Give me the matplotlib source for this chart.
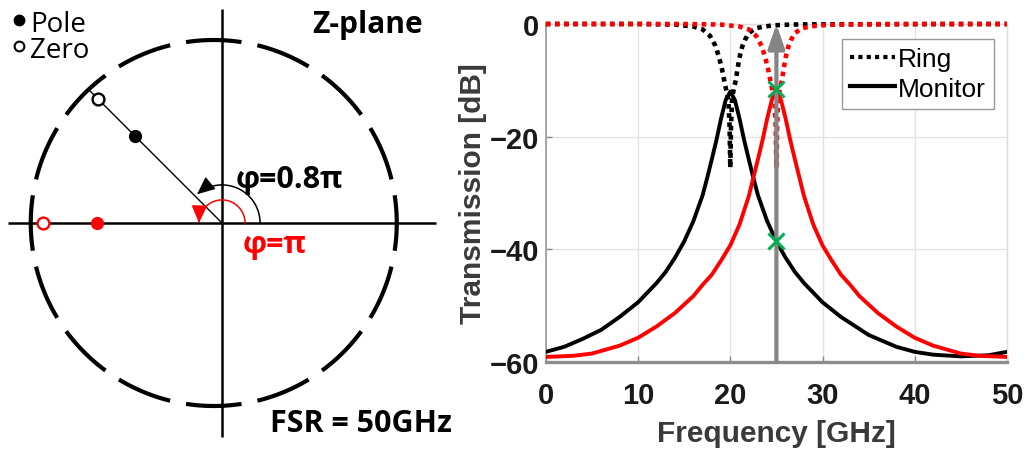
import numpy as np
import matplotlib
matplotlib.use('Agg')
import matplotlib.pyplot as plt
from matplotlib.patches import FancyArrowPatch
from matplotlib.path import Path
from matplotlib.lines import Line2D

# ----------------------------- data -----------------------------
# z-plane (left panel): one pole/zero pair per case
case_colors = ['black', 'red']
case_angle_deg = [135, 180]          # drawn direction of the pair
pole_radius = [0.67, 0.685]
zero_radius = [0.957, 0.976]
phi_labels = ['φ=0.8π', 'φ=π']

# transmission (right panel)
black_monitor_f = [0, 2, 4, 6, 8, 10, 12, 13, 14, 15, 16, 17, 17.5, 18, 18.5, 19, 19.5, 20,
                   20.5, 21, 21.5, 22, 22.5, 23, 24, 25, 26, 27, 28, 30, 32, 35, 38, 40, 42, 45, 48, 50]
black_monitor_db = [-58.2, -57.3, -55.9, -54.3, -52.0, -49.4, -46.0, -44.0, -41.5, -38.6, -35.0, -30.4,
                    -27.3, -24.0, -20.6, -16.8, -13.5, -12.0, -13.5, -16.8, -20.6, -24.0, -27.3, -30.4,
                    -35.0, -38.6, -41.5, -44.0, -46.0, -49.4, -52.0, -55.2, -57.3, -58.2, -58.7, -59.0,
                    -58.8, -58.2]

red_monitor_f = [0, 3, 5, 8, 10, 12, 14, 16, 17, 18, 19, 20, 21, 22, 22.5, 23, 23.5, 24, 24.5, 25,
                 25.5, 26, 26.5, 27, 27.5, 28, 29, 30, 31, 32, 33, 34, 36, 38, 40, 42, 45, 47, 50]
red_monitor_db = [-59.1, -58.9, -58.5, -57.1, -55.7, -53.7, -51.3, -48.3, -46.3, -44.5, -42.0, -39.3,
                  -35.6, -30.6, -27.3, -24.0, -20.6, -16.8, -13.5, -11.6, -13.5, -16.8, -20.6, -24.0,
                  -27.3, -30.6, -35.6, -39.3, -42.0, -44.5, -46.3, -48.3, -51.3, -53.7, -55.7, -57.1,
                  -58.5, -58.9, -59.1]

black_ring_f = [0, 10, 12, 14, 16, 17, 17.8, 18.4, 18.8, 19.1, 19.4, 19.6, 19.8, 19.92, 20,
                20.08, 20.2, 20.4, 20.6, 20.8, 21.05, 21.3, 21.6, 22.0, 22.8, 23.5, 24.6, 26.5, 30, 50]
black_ring_db = [0, 0, -0.05, -0.1, -0.45, -0.95, -2.1, -3.9, -6.0, -8.0, -10.5, -12.0, -13.8, -18, -25.5,
                 -18, -13.2, -11.3, -10.0, -7.8, -5.6, -4.0, -2.8, -1.6, -0.75, -0.5, -0.25, -0.1, -0.05, 0]

red_ring_f = [0, 15, 17, 19, 21, 22, 22.8, 23.4, 23.8, 24.1, 24.4, 24.6, 24.8, 24.92, 25,
              25.08, 25.2, 25.4, 25.6, 25.8, 26.05, 26.3, 26.6, 27.0, 27.8, 28.5, 29.6, 31.5, 40, 50]
red_ring_db = [0, 0, -0.05, -0.1, -0.45, -0.95, -2.1, -3.9, -6.0, -8.0, -10.5, -12.0, -13.8, -18, -25.5,
               -18, -13.2, -11.3, -10.0, -7.8, -5.6, -4.0, -2.8, -1.6, -0.75, -0.5, -0.25, -0.1, 0, 0]

marker_f = [25, 25]
marker_db = [-11.6, -38.5]
arrow_f = 25

x_ticks = [0, 10, 20, 30, 40, 50]
y_ticks = [0, -20, -40, -60]
# ----------------------------------------------------------------

W, H = 1027, 456
fig = plt.figure(figsize=(W / 100, H / 100), dpi=100)

sans = ['Open Sans', 'DejaVu Sans']
arial = ['Liberation Sans', 'DejaVu Sans']

# ---------------- left: z-plane ----------------
scale = 183.0          # px per unit radius
ox, oy = 222.0, 224.0  # origin in px (from top-left)
axw = 462
axl = fig.add_axes([0, 0, axw / W, 1])
axl.set_xlim(-ox / scale, (axw - ox) / scale)
axl.set_ylim(-(H - oy) / scale, oy / scale)
axl.axis('off')

# real / imaginary axes
axl.plot([-1.17, 1.17], [0, 0], color='black', lw=1.8, solid_capstyle='butt')
axl.plot([0, 0], [-1.17, 1.17], color='black', lw=1.8, solid_capstyle='butt')

# dashed unit circle: 16 dashes centred on the axes
cx = -0.045
n_dash = 16
for k in range(n_dash):
    c = 2 * np.pi * k / n_dash
    t = np.linspace(c - 0.152, c + 0.152, 30)
    axl.plot(cx + np.cos(t), np.sin(t), color='black', lw=3.0, solid_capstyle='butt')

for col, ang, rp, rz in zip(case_colors, case_angle_deg, pole_radius, zero_radius):
    a = np.deg2rad(ang)
    if col == 'black':
        axl.plot([0, 1.02 * np.cos(a)], [0, 1.02 * np.sin(a)], color='black', lw=1.0)
    axl.plot(rp * np.cos(a), rp * np.sin(a), 'o', color=col, ms=8.5, zorder=5)
    axl.plot(rz * np.cos(a), rz * np.sin(a), 'o', mfc='white', mec=col, mew=1.7, ms=8.5, zorder=5)

# angle arcs with arrow heads
for col, ang, rad, end in [('black', 135, 0.208, 131), ('red', 180, 0.126, 180)]:
    t = np.deg2rad(np.linspace(0, end, 60))
    path = Path(np.column_stack([rad * np.cos(t), rad * np.sin(t)]))
    arr = FancyArrowPatch(path=path, arrowstyle='-|>,head_length=0.9,head_width=0.4',
                          mutation_scale=12, color=col, lw=1.1, shrinkA=0, shrinkB=0, zorder=4)
    axl.add_patch(arr)

def ftext(x, y, s, **kw):
    fig.text(x / W, 1 - y / H, s, **kw)

ftext(236, 188, phi_labels[0], fontsize=22, fontweight='bold', family=sans, color='black', va='baseline')
ftext(243, 253, phi_labels[1], fontsize=22, fontweight='bold', family=sans, color='red', va='baseline')
ftext(312, 33, 'Z-plane', fontsize=21.5, fontweight='bold', family=sans, va='baseline')
ftext(270, 432, 'FSR = 50GHz', fontsize=22, fontweight='bold', family=sans, va='baseline')
# pole / zero key as one two-line text
ftext(30, 57.5, 'Pole\nZero', fontsize=20, family=sans, va='baseline', linespacing=0.88)
fig.add_artist(Line2D([19.3 / W], [1 - 20.7 / H], marker='o', color='black', ms=7.5))
fig.add_artist(Line2D([19.3 / W], [1 - 46.7 / H], marker='o', mfc='white', mec='black', mew=1.5, ms=7.0))

# ---------------- right: transmission ----------------
x0, x1, y0, y1 = 545.8, 1007.0, 25.0, 363.0
ax = fig.add_axes([x0 / W, 1 - y1 / H, (x1 - x0) / W, (y1 - y0) / H])

ax.plot(black_monitor_f, black_monitor_db, color='black', lw=2.8, zorder=3)
ax.plot(red_monitor_f, red_monitor_db, color='red', lw=2.8, zorder=3)
ax.plot(black_ring_f, black_ring_db, color='black', lw=3.3, ls=(0, (1, 1)), zorder=3, clip_on=False)
ax.plot(red_ring_f, red_ring_db, color='red', lw=3.3, ls=(0, (1, 1)), zorder=3, clip_on=False)

ax.annotate('', xy=(arrow_f, 0), xytext=(arrow_f, -60),
            arrowprops=dict(arrowstyle='-|>,head_length=1.45,head_width=0.5', color='#858585',
                            lw=3.0, shrinkA=0, shrinkB=0), zorder=4)
ax.plot(marker_f, marker_db, 'x', color='#00b050', ms=11, mew=2.2, zorder=5, linestyle='none')

ax.set_xlim(0, 50)
ax.set_ylim(-60, 0)
ax.set_xticks(x_ticks)
ax.set_yticks(y_ticks)
ax.grid(True, color='#e3e3e3', lw=1.0)
ax.set_axisbelow(True)
ax.tick_params(direction='in', length=4, width=1, color='#888888')
ax.tick_params(axis='x', pad=14)
ax.tick_params(axis='y', pad=5)
for lab in ax.get_xticklabels() + ax.get_yticklabels():
    lab.set_fontsize(21)
    lab.set_fontweight('bold')
    lab.set_family(arial)
    lab.set_color('#1a1a1a')
for side in ['top', 'right']:
    ax.spines[side].set_color('#dddddd')
    ax.spines[side].set_linewidth(1.0)
ax.spines['left'].set_color('#999999')
ax.spines['left'].set_linewidth(1.2)
ax.spines['bottom'].set_color('#8c8c8c')
ax.spines['bottom'].set_linewidth(2.4)

ax.set_xlabel('Frequency [GHz]', fontsize=21.5, fontweight='bold', family=arial, color='#3a3a3a', labelpad=7)
ax.set_ylabel('Transmission [dB]', fontsize=21.5, fontweight='bold', family=arial, color='#3a3a3a', labelpad=2)

handles = [Line2D([], [], color='black', lw=3.0, ls=(0, (1, 1))),
           Line2D([], [], color='black', lw=3.0)]
leg = ax.legend(handles, ['Ring', 'Monitor'], loc='upper right', bbox_to_anchor=(0.972, 0.956),
                borderaxespad=0, prop={'family': arial, 'size': 19}, handlelength=1.7,
                handletextpad=0.12, borderpad=0.3, labelspacing=0.22, fancybox=False,
                framealpha=1, edgecolor='#999999')
leg.get_frame().set_linewidth(1.0)

fig.savefig('out.png', dpi=100)
